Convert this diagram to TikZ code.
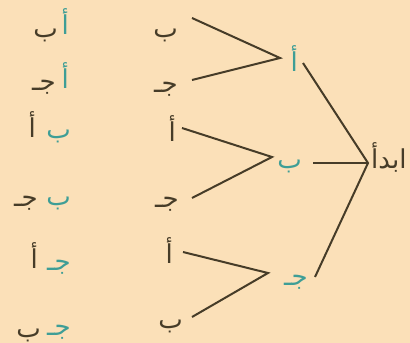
\documentclass[tikz,border=0pt]{standalone}
\usepackage{fontspec}
\newfontfamily\arabicfont[Script=Arabic]{DejaVu Sans}
\TeXXeTstate=1
\definecolor{bg}{RGB}{251,224,184}
\definecolor{ink}{RGB}{70,60,40}
\definecolor{tl}{RGB}{62,158,150}
\begin{document}
\begin{tikzpicture}[x=1pt,y=-1pt,
  lbl/.style={font=\arabicfont\fontsize{26}{29}\selectfont, text=ink, inner sep=0pt, anchor=base east},
  tlbl/.style={lbl, text=tl},
  edge/.style={draw=ink, line width=2pt}]
\fill[bg] (0,0) rectangle (410,343);
\useasboundingbox (0,0) rectangle (410,343);
% root
\node[lbl, anchor=base west] (root) at (371,168) {\beginR ابدأ\endR};
\coordinate (R) at (368,163);
% level 1
\node[tlbl] (a1) at (298,71) {\beginR أ\endR};
\node[tlbl] (b1) at (302,168) {\beginR ب\endR};
\node[tlbl] (c1) at (308,285) {\beginR جـ\endR};
\coordinate (Ra) at (303,63);
\coordinate (Rb) at (313,163);
\coordinate (Rc) at (315,277);
\coordinate (V1) at (280,58);
\coordinate (V2) at (272,157);
\coordinate (V3) at (268,273);
% level 2
\node[lbl] (l1) at (178,37) {\beginR ب\endR};
\node[lbl] (l2) at (178,92) {\beginR جـ\endR};
\node[lbl] (l3) at (176,141) {\beginR أ\endR};
\node[lbl] (l4) at (179,207) {\beginR جـ\endR};
\node[lbl] (l5) at (173,263) {\beginR أ\endR};
\node[lbl] (l6) at (183,328) {\beginR ب\endR};
\coordinate (E1) at (192,18);
\coordinate (E2) at (192,80);
\coordinate (E3) at (182,128);
\coordinate (E4) at (192,198);
\coordinate (E5) at (183,252);
\coordinate (E6) at (192,317);
% results: first letter (teal, right) and second letter (dark, left)
\node[tlbl] (r1a) at (69,34) {\beginR أ\endR};
\node[lbl]  (r1b) at (58,37) {\beginR ب\endR};
\node[tlbl] (r2a) at (69,88) {\beginR أ\endR};
\node[lbl]  (r2b) at (56,90) {\beginR جـ\endR};
\node[tlbl] (r3a) at (71,138) {\beginR ب\endR};
\node[lbl]  (r3b) at (36,137) {\beginR أ\endR};
\node[tlbl] (r4a) at (71,205) {\beginR ب\endR};
\node[lbl]  (r4b) at (38,206) {\beginR جـ\endR};
\node[tlbl] (r5a) at (71,270) {\beginR جـ\endR};
\node[lbl]  (r5b) at (38,268) {\beginR أ\endR};
\node[tlbl] (r6a) at (71,335) {\beginR جـ\endR};
\node[lbl]  (r6b) at (41,337) {\beginR ب\endR};
% edges
\draw[edge] (Ra) -- (R) -- (Rc);
\draw[edge] (Rb) -- (R);
\draw[edge] (E1) -- (V1) -- (E2);
\draw[edge] (E3) -- (V2) -- (E4);
\draw[edge] (E5) -- (V3) -- (E6);
\end{tikzpicture}
\end{document}
